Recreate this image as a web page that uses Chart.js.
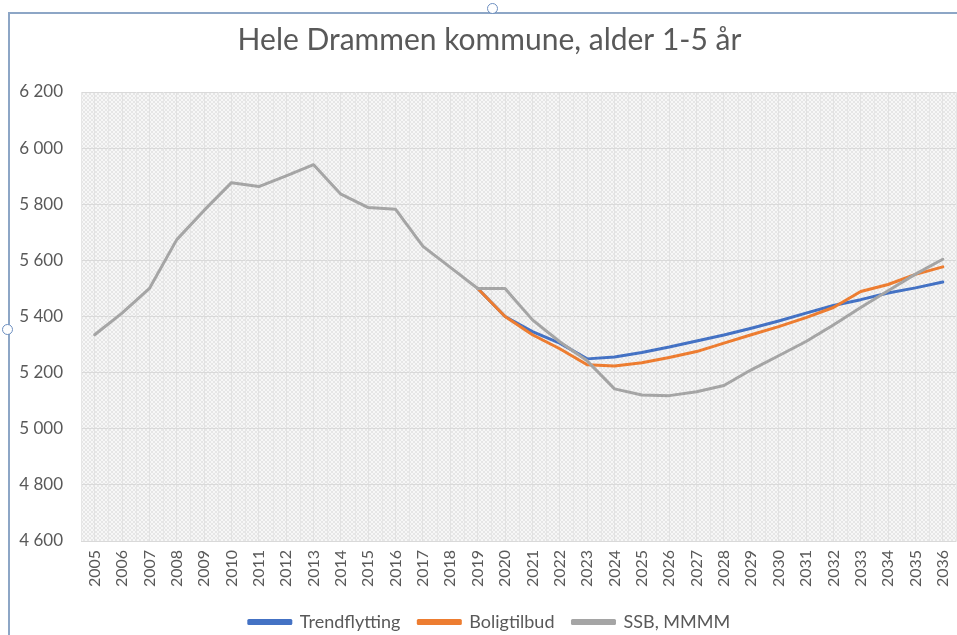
<!DOCTYPE html>
<html>
<head>
<meta charset="utf-8">
<script src="https://cdn.jsdelivr.net/npm/chart.js@4.4.1/dist/chart.umd.min.js"></script>
<style>
  body { margin: 0; background: #fff; }
  #wrap { position: relative; width: 957px; height: 635px; overflow: hidden; }
  #frame { position: absolute; left: 8px; top: 12px; width: 2000px; height: 2000px;
           border-left: 2px solid #8da6c6; border-top: 2px solid #8da6c6; pointer-events: none; }
  .handle { position: absolute; width: 9px; height: 9px; border: 1.5px solid #6d8fc0;
            border-radius: 50%; background: #fff; }
</style>
</head>
<body>
<div id="wrap">
  <!-- canvas is a bit larger than the view so the plot runs to the right edge -->
  <canvas id="myChart" width="971" height="641"></canvas>
  <div id="frame"></div>
  <div class="handle" style="left:487px; top:3px;"></div>
  <div class="handle" style="left:2px; top:324px;"></div>
</div>
<script>
const years = [];
for (let y = 2005; y <= 2036; y++) years.push(String(y));

// Trendflytting / Boligtilbud start in 2019, before that only SSB history
const trendflytting = [null, null, null, null, null, null, null, null, null, null, null, null, null, null,
    5500, 5400, 5346, 5305, 5249, 5256, 5272, 5291, 5313, 5334, 5358, 5384, 5412, 5439, 5460, 5484, 5502, 5523];
const boligtilbud = [null, null, null, null, null, null, null, null, null, null, null, null, null, null,
    5500, 5400, 5335, 5285, 5228, 5224, 5235, 5254, 5275, 5305, 5335, 5364, 5396, 5432, 5489, 5514, 5550, 5577];
const ssb = [5335, 5412, 5500, 5674, 5778, 5877, 5863, 5901, 5941, 5836, 5788, 5782, 5650, 5575,
    5500, 5500, 5388, 5310, 5242, 5142, 5120, 5118, 5132, 5154, 5210, 5260, 5311, 5370, 5432, 5492, 5551, 5604];

const yMin = 4600;
const yMax = 6200;
const yStep = 200;

const textColor = "#595959";
const fontName = "Lato, 'Open Sans', sans-serif";

function makeHatch() {
    const c = document.createElement("canvas");
    c.width = 4;
    c.height = 4;
    const g = c.getContext("2d");
    g.fillStyle = "#f7f7f7";
    g.fillRect(0, 0, 4, 4);
    g.fillStyle = "#e6e6e6";
    for (let i = 0; i < 4; i++) {
        g.fillRect(i, i, 1, 1);
        g.fillRect(3 - i, i, 1, 1);
    }
    return g.createPattern(c, "repeat");
}

// hatched plot area plus faint lines between the year ticks
const plotBackground = {
    id: "plotBackground",
    beforeDraw(chart) {
        const { ctx, chartArea } = chart;
        ctx.save();
        ctx.fillStyle = makeHatch();
        ctx.fillRect(chartArea.left, chartArea.top, chartArea.right - chartArea.left, chartArea.bottom - chartArea.top);
        ctx.restore();
    },
    beforeDatasetsDraw(chart) {
        const { ctx, chartArea } = chart;
        const xs = chart.scales.x;
        ctx.save();
        ctx.strokeStyle = "#e6e6e6";
        ctx.lineWidth = 1;
        ctx.beginPath();
        for (let i = 0; i <= years.length; i++) {
            const x = Math.round(xs.getPixelForValue(i - 0.5)) + 0.5;
            ctx.moveTo(x, chartArea.top);
            ctx.lineTo(x, chartArea.bottom);
        }
        ctx.stroke();
        ctx.restore();
    }
};

function spaced(v) {
    return String(v).replace(/\B(?=(\d{3})+(?!\d))/g, " ");
}

const ctx = document.getElementById("myChart");

new Chart(ctx, {
    type: "line",
    data: {
        labels: years,
        datasets: [
            {
                label: "Trendflytting",
                data: trendflytting,
                borderColor: "#4472C4",
                backgroundColor: "#4472C4",
                order: 2
            },
            {
                label: "Boligtilbud",
                data: boligtilbud,
                borderColor: "#ED7D31",
                backgroundColor: "#ED7D31",
                order: 1
            },
            {
                label: "SSB, MMMM",
                data: ssb,
                borderColor: "#A5A5A5",
                backgroundColor: "#A5A5A5",
                order: 0
            }
        ]
    },
    options: {
        responsive: false,
        animation: false,
        layout: { padding: { left: 8, right: 0, top: 0, bottom: 0 } },
        elements: {
            point: { radius: 0 },
            line: { borderWidth: 3, tension: 0, borderJoinStyle: "round", borderCapStyle: "round" }
        },
        scales: {
            x: {
                offset: true,
                grid: { color: "#e2e2e2", drawTicks: false, offset: false },
                border: { display: false },
                ticks: {
                    color: textColor,
                    font: { family: fontName, size: 16 },
                    minRotation: 90,
                    maxRotation: 90,
                    padding: 9,
                    autoSkip: false
                },
                afterFit(scale) { scale.height = 54; }
            },
            y: {
                min: yMin,
                max: yMax,
                grid: { color: "#d9d9d9", drawTicks: false },
                border: { display: false },
                ticks: {
                    stepSize: yStep,
                    color: textColor,
                    font: { family: fontName, size: 17 },
                    padding: 18,
                    callback: value => spaced(value)
                },
                afterFit(scale) { scale.width = 73; }
            }
        },
        plugins: {
            title: {
                display: true,
                text: "Hele Drammen kommune, alder 1-5 år",
                color: textColor,
                font: { family: fontName, size: 30, weight: "normal" },
                padding: { top: 22, bottom: 34 }
            },
            legend: {
                position: "bottom",
                labels: {
                    color: textColor,
                    font: { family: fontName, size: 18 },
                    boxWidth: 42,
                    boxHeight: 3,
                    padding: 18,
                    sort: (a, b) => a.datasetIndex - b.datasetIndex
                }
            },
            tooltip: { enabled: false }
        }
    },
    plugins: [plotBackground]
});
</script>
</body>
</html>
